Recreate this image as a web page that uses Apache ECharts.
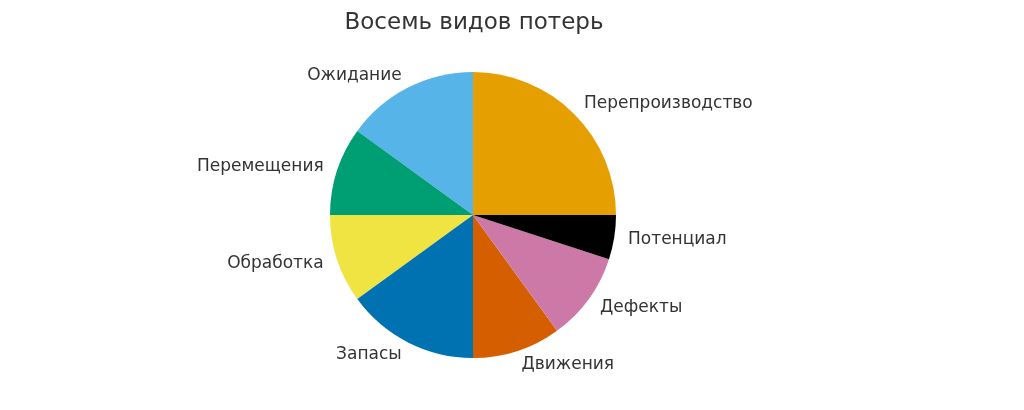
<!DOCTYPE html>
<html lang="ru">
<head>
    <meta charset="UTF-8">
    <title>Восемь видов потерь</title>
    <script src="https://cdn.jsdelivr.net/npm/echarts@6/dist/echarts.min.js"></script>
    <style>
        *{
            margin: 0;
            padding: 0;
        }
        html,body{
            width: 100%;
            height: 100%;
            overflow: hidden;
            background: #fff;
        }
        .container{
            width: 1024px;
            height: 410px;
        }
    </style>
</head>
<body>
<div class="container"></div>
<script>
    const titleText = 'Восемь видов потерь'
    const categories = ['Перепроизводство', 'Ожидание', 'Перемещения', 'Обработка', 'Запасы', 'Движения', 'Дефекты', 'Потенциал']
    const values = [25, 15, 10, 10, 15, 10, 10, 5]
    const colors = ['#E69F00', '#56B4E9', '#009E73', '#F0E442', '#0072B2', '#D55E00', '#CC79A7', '#000000']

    window.onload = function () {
        let container = document.querySelector('.container')
        let mychart = echarts.init(container)
        let data = categories.map((name, i) => ({
            name,
            value: values[i],
            itemStyle: {color: colors[i]}
        }))

        let options = {
            backgroundColor: '#fff',
            animation: false,
            title: {
                text: titleText,
                left: 469,
                top: 7,
                textAlign: 'center',
                textStyle: {
                    fontFamily: 'DejaVu Sans',
                    fontSize: 23,
                    fontWeight: 'normal',
                    color: '#333'
                }
            },
            series: [{
                type: 'pie',
                center: [473, 215],
                radius: 143,
                startAngle: 0,
                clockwise: false,
                avoidLabelOverlap: false,
                data,
                itemStyle: {borderWidth: 0},
                label: {
                    show: true,
                    position: 'outside',
                    fontFamily: 'DejaVu Sans',
                    fontSize: 17,
                    color: '#333',
                    distanceToLabelLine: 0
                },
                labelLine: {
                    show: false,
                    length: 14,
                    length2: 0
                }
            }]
        }

        mychart.setOption(options)
    }
</script>
</body>
</html>
